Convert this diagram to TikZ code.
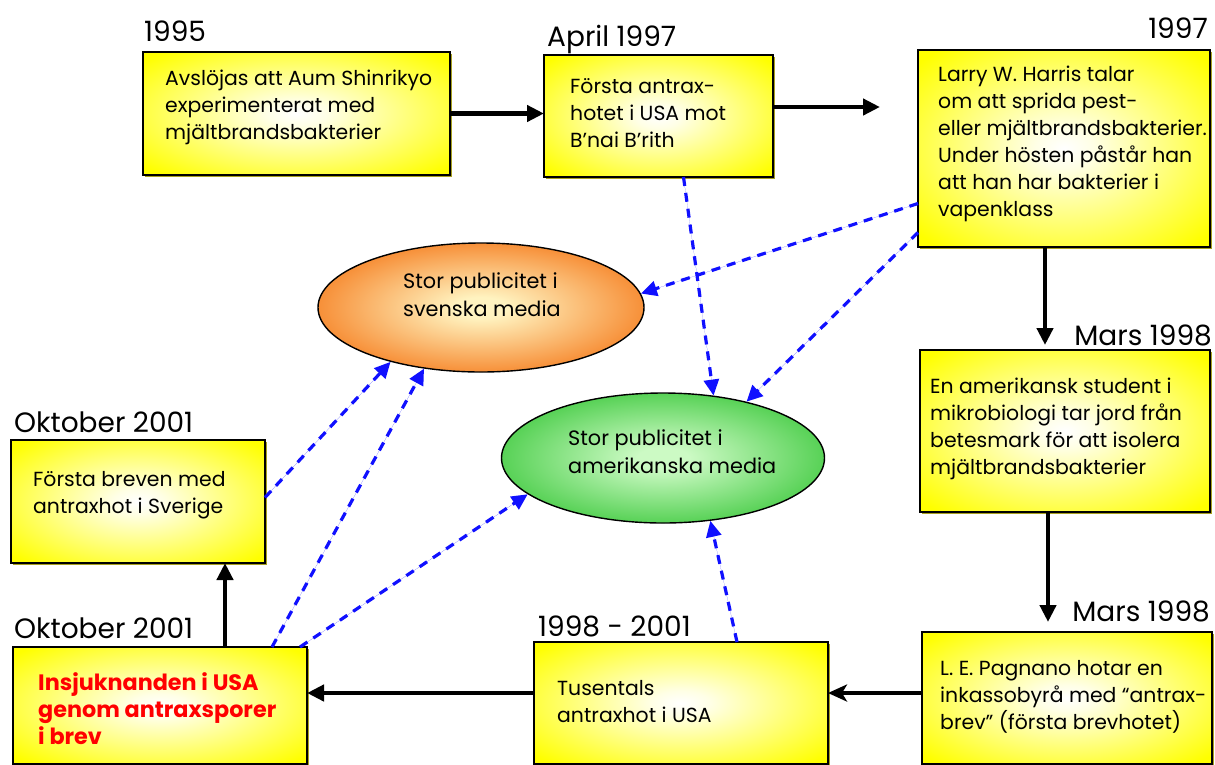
\documentclass[tikz,border=0pt]{standalone}
\usepackage{fontspec}
\setmainfont{Poppins}
\usetikzlibrary{arrows.meta,shapes.geometric,shadows,calc}
\definecolor{byel}{HTML}{FFFF00}
\definecolor{shadowyel}{HTML}{A8A020}
\definecolor{orin}{HTML}{FFF3C0}
\definecolor{orout}{HTML}{F57818}
\definecolor{grin}{HTML}{CCFAC4}
\definecolor{grout}{HTML}{3CC83C}
\definecolor{dashblue}{HTML}{1010FF}
\pgfdeclareradialshading{yelshade}{\pgfpoint{0bp}{0bp}}{color(0bp)=(white); color(5bp)=(white!90!byel); color(33bp)=(byel); color(50bp)=(byel)}
\pgfdeclareradialshading{orshade}{\pgfpoint{0bp}{0bp}}{color(0bp)=(orin); color(4bp)=(orin); color(30bp)=(orout); color(50bp)=(orout)}
\pgfdeclareradialshading{grshade}{\pgfpoint{0bp}{0bp}}{color(0bp)=(grin); color(4bp)=(grin); color(30bp)=(grout); color(50bp)=(grout)}
\begin{document}
\begin{tikzpicture}[x=1pt,y=-1pt,
  evbox/.style={draw=black, line width=1.4pt, shading=yelshade, anchor=north west,
    inner sep=0pt, outer sep=0pt,
    drop shadow={shadow xshift=2pt, shadow yshift=-2pt, fill=shadowyel, opacity=1}},
  evtext/.style={anchor=north west, inner sep=0pt, align=left,
    font=\fontsize{20.4}{27}\selectfont},
  redtext/.style={anchor=north west, inner sep=0pt, align=left, text=red,
    font=\fontsize{22.3}{27}\selectfont\bfseries},
  datelbl/.style={inner sep=0pt, font=\fontsize{28}{30}\selectfont},
  media/.style={ellipse, draw=black, line width=1.4pt, inner sep=0pt},
  mediatext/.style={anchor=north west, inner sep=0pt, align=left,
    font=\fontsize{20.8}{28.5}\selectfont},
  blk/.style={line width=4.4pt, -{Triangle[length=17pt,width=16pt]}},
  blkS/.style={line width=4.4pt, -{Stealth[length=19pt,width=17pt,inset=5pt]}},
  blu/.style={draw=dashblue, line width=3.2pt, dash pattern=on 9pt off 7pt,
    -{Triangle[length=16pt,width=15pt]}, fill=dashblue}
]
\useasboundingbox (0,0) rectangle (1215,764);

% date labels
\node[datelbl, anchor=base west] (d1) at (144,41) {1995};
\node[datelbl, anchor=base west] (d2) at (547,46) {April 1997};
\node[datelbl, anchor=base east] (d3) at (1208,38) {1997};
\node[datelbl, anchor=base east] (d4) at (1212,345) {Mars 1998};
\node[datelbl, anchor=base east] (d5) at (1210,621) {Mars 1998};
\node[datelbl, anchor=base west] (d6) at (538,636) {1998 - 2001};
\node[datelbl, anchor=base west] (d7) at (14,638) {Oktober 2001};
\node[datelbl, anchor=base west] (d8) at (14,432) {Oktober 2001};

% boxes
\node[evbox, minimum width=307pt, minimum height=123pt] (b1) at (143,52) {};
\node[evbox, minimum width=229pt, minimum height=122pt] (b2) at (544,55) {};
\node[evbox, minimum width=292pt, minimum height=197pt] (b3) at (918,50) {};
\node[evbox, minimum width=290pt, minimum height=162pt] (b4) at (920,350) {};
\node[evbox, minimum width=290pt, minimum height=132pt] (b5) at (922,632) {};
\node[evbox, minimum width=294pt, minimum height=122pt] (b6) at (534,642) {};
\node[evbox, minimum width=294pt, minimum height=117pt] (b7) at (13,647) {};
\node[evbox, minimum width=254pt, minimum height=123pt] (b8) at (11,440) {};

% box texts
\node[evtext] (t1) at (165,70) {Avslöjas att Aum Shinrikyo\\experimenterat med\\mjältbrandsbakterier};
\node[evtext] (t2) at (570,78) {Första antrax-\\hotet i USA mot\\B'nai B'rith};
\node[evtext] (t3) at (938,66) {Larry W. Harris talar\\om att sprida pest-\\eller mjältbrandsbakterier.\\Under hösten påstår han\\att han har bakterier i\\vapenklass};
\node[evtext] (t4) at (930,378) {En amerikansk student i\\mikrobiologi tar jord från\\betesmark för att isolera\\mjältbrandsbakterier};
\node[evtext] (t5) at (940,660) {L. E. Pagnano hotar en\\inkassobyrå med “antrax-\\brev” (första brevhotet)};
\node[evtext] (t6) at (557,680) {Tusentals\\antraxhot i USA};
\node[redtext] (t7) at (38,672) {Insjuknanden i USA\\genom antraxsporer\\i brev};
\node[evtext] (t8) at (33,471) {Första breven med\\antraxhot i Sverige};

% media ellipses
\node[media, shading=orshade, minimum width=326pt, minimum height=129pt] (or) at (481,307.5) {};
\node[media, shading=grshade, minimum width=323pt, minimum height=130pt] (gr) at (663,458) {};
\node[mediatext] (ot) at (403,272) {Stor publicitet i\\svenska media};
\node[mediatext] (gt) at (568,429) {Stor publicitet i\\amerikanska media};

% black timeline arrows
\coordinate (c23) at (880,107);
\draw[blk] (b1.east) -- (b1.east -| b2.west);
\draw[blk] (b2.east |- c23) -- (c23);
\draw[blk, shorten >=5pt] ([xshift=-19pt]b3.south) -- ([xshift=-19pt]b3.south |- b4.north);
\draw[blk, shorten >=10pt] ([xshift=-17pt]b4.south) -- ([xshift=-17pt]b4.south |- b5.north);
\draw[blkS] ([yshift=5pt]b5.west) -- ([yshift=5pt]b5.west -| b6.east);
\draw[blk] ([yshift=10pt]b6.west) -- ([yshift=10pt]b6.west -| b7.east);
\draw[blk] ([xshift=65pt]b7.north) -- ([xshift=65pt]b7.north |- b8.south);

% blue dashed influence arrows
\draw[blu] ([xshift=25pt]b2.south) -- (gr.51);
\draw[blu] ([yshift=-55pt]b3.west) -- (or.5);
\draw[blu] ([yshift=-84pt]b3.west) -- (gr.34);
\draw[blu] ([yshift=4pt]b8.east) -- (or.211);
\draw[blu] ([xshift=112pt]b7.north) -- (or.227);
\draw[blu] ([xshift=140pt]b7.north) -- (gr.195);
\draw[blu] ([xshift=56pt]b6.north) -- (gr.307);
\end{tikzpicture}
\end{document}
